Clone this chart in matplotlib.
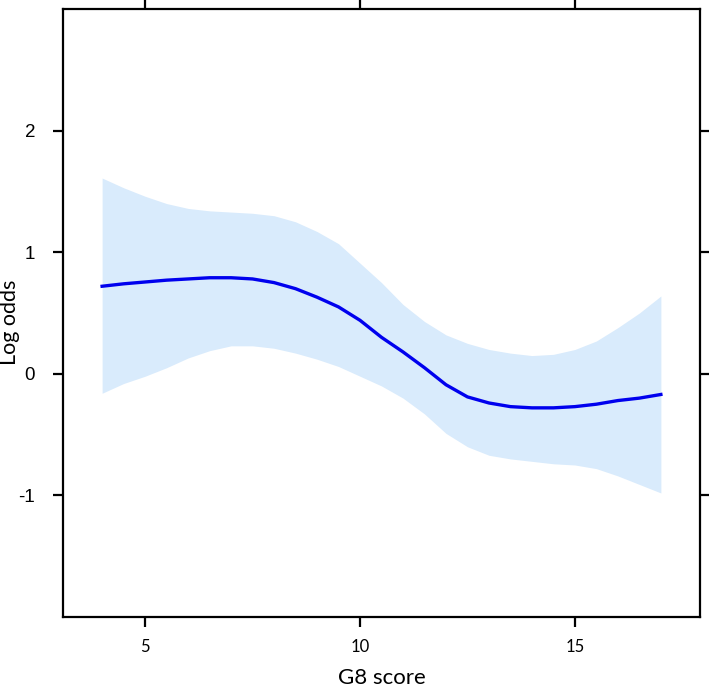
import matplotlib

matplotlib.use("Agg")
import matplotlib.pyplot as plt

# G8 score grid and the fitted log-odds with its confidence band
g8 = [4.0, 4.5, 5.0, 5.5, 6.0, 6.5, 7.0, 7.5, 8.0, 8.5, 9.0, 9.5, 10.0, 10.5,
      11.0, 11.5, 12.0, 12.5, 13.0, 13.5, 14.0, 14.5, 15.0, 15.5, 16.0, 16.5, 17.0]
log_odds = [0.72, 0.74, 0.755, 0.77, 0.78, 0.79, 0.79, 0.78, 0.75, 0.70, 0.63, 0.55,
            0.44, 0.30, 0.18, 0.05, -0.09, -0.19, -0.24, -0.27, -0.28, -0.28, -0.27,
            -0.25, -0.22, -0.20, -0.17]
upper = [1.61, 1.53, 1.46, 1.40, 1.36, 1.34, 1.33, 1.32, 1.30, 1.25, 1.17, 1.07, 0.91,
         0.75, 0.57, 0.43, 0.32, 0.25, 0.20, 0.17, 0.15, 0.16, 0.20, 0.27, 0.38, 0.50, 0.64]
lower = [-0.16, -0.08, -0.02, 0.05, 0.13, 0.19, 0.23, 0.23, 0.21, 0.17, 0.12, 0.06,
         -0.02, -0.10, -0.20, -0.33, -0.49, -0.60, -0.67, -0.70, -0.72, -0.74, -0.75,
         -0.78, -0.84, -0.91, -0.98]

x_ticks = [5, 10, 15]
x_labels = ["5", "10", "15"]
y_ticks = [-1, 0, 1, 2]
y_labels = ["-1", "0", "1", "2"]

fig = plt.figure(figsize=(7.09, 6.88), dpi=100)
ax = fig.add_axes([63 / 709, 71 / 688, 637 / 709, 608 / 688])

ax.fill_between(g8, lower, upper, color="#d9ebfc", linewidth=0)
ax.plot(g8, log_odds, color="#0000ee", linewidth=2.4)

ax.set_xlim(3.09, 17.91)
ax.set_ylim(-2.0, 3.0)
ax.set_xticks(x_ticks, labels=x_labels, fontfamily="Lato", fontsize=12)
ax.set_yticks(y_ticks, labels=y_labels, fontfamily="Liberation Sans", fontsize=13.5)

for s in ax.spines.values():
    s.set_linewidth(1.6)
ax.tick_params(direction="out", length=7, width=1.6, top=True, right=True)
ax.tick_params(axis="x", pad=9)
ax.tick_params(axis="y", pad=13)

ax.set_xlabel("G8 score", fontfamily="Lato", fontsize=16, labelpad=9)
ax.set_ylabel("Log odds", fontfamily="Lato", fontsize=15.5)
ax.yaxis.set_label_coords(-0.068, 0.485)

fig.savefig("out.png", dpi=100)
